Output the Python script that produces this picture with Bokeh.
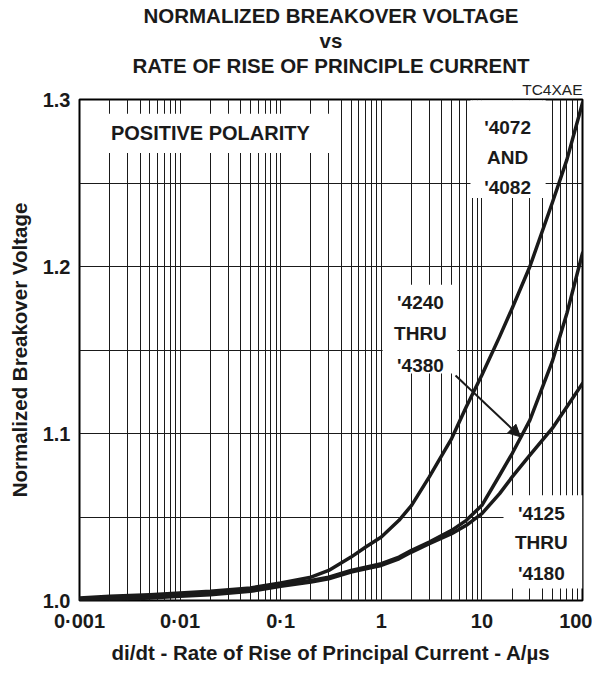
from bokeh.plotting import figure
from bokeh.models import FixedTicker, Title, Arrow, NormalHead, NumeralTickFormatter, ColumnDataSource
from bokeh.core.properties import value
from bokeh.embed import file_html
from bokeh.resources import INLINE

FONT = "Liberation Sans"

# ---- data ----
x_vals = [0.001, 0.002, 0.005, 0.01, 0.02, 0.05, 0.1, 0.2, 0.3, 0.5, 0.7, 1, 1.5, 2, 3, 5, 7, 10, 15, 20, 30, 50, 70, 100]
v_4072 = [1.0015, 1.0025, 1.0035, 1.0045, 1.0055, 1.0075, 1.0105, 1.014, 1.018, 1.026, 1.032, 1.038, 1.048, 1.057, 1.074, 1.097, 1.116, 1.135, 1.158, 1.175, 1.200, 1.238, 1.264, 1.298]
v_4240 = [1.0005, 1.0015, 1.0025, 1.0035, 1.0045, 1.0065, 1.0095, 1.012, 1.014, 1.018, 1.020, 1.022, 1.026, 1.030, 1.035, 1.042, 1.048, 1.057, 1.075, 1.088, 1.108, 1.143, 1.172, 1.208]
v_4125 = [1.0000, 1.0005, 1.0015, 1.0025, 1.0035, 1.0055, 1.0085, 1.011, 1.013, 1.017, 1.019, 1.021, 1.025, 1.029, 1.034, 1.040, 1.045, 1.052, 1.064, 1.074, 1.087, 1.103, 1.116, 1.130]

x_major_ticks = [0.001, 0.01, 0.1, 1, 10, 100]
x_major_labels = ["0·001", "0·01", "0·1", "1", "10", "100"]
y_major_ticks = [1.0, 1.1, 1.2, 1.3]
y_grid_ticks = [1.05, 1.1, 1.15, 1.2, 1.25]
x_grid_ticks = [m * d for d in [0.001, 0.01, 0.1, 1, 10] for m in range(1, 10)] + [100]

title_lines = ["NORMALIZED BREAKOVER VOLTAGE", "vs", "RATE OF RISE OF PRINCIPLE CURRENT"]
fig_code = "TC4XAE"
x_label = "di/dt - Rate of Rise of Principal Current - A/\u00b5s"
y_label = "Normalized Breakover Voltage"

# annotation boxes (layout): x0, x1, y0, y1 in data units
boxes = [
    (0.00115, 0.35, 1.268, 1.2915),
    (7.7, 43.0, 1.241, 1.2995),
    (1.03, 5.7, 1.136, 1.189),
    (16.4, 100, 1.0072, 1.063),
]
box_texts = [
    (0.02, 1.2802, "POSITIVE POLARITY", "20px"),
    (18.0, 1.2832, "'4072", "19px"),
    (18.0, 1.2653, "AND", "19px"),
    (18.0, 1.2473, "'4082", "19px"),
    (2.45, 1.1784, "'4240", "19px"),
    (2.45, 1.1599, "THRU", "19px"),
    (2.45, 1.1407, "'4380", "19px"),
    (39.0, 1.0521, "'4125", "19px"),
    (39.0, 1.0347, "THRU", "19px"),
    (39.0, 1.0162, "'4180", "19px"),
]

p = figure(width=592, height=667, x_axis_type="log", x_range=(0.001, 100), y_range=(1.0, 1.3),
           output_backend="svg", toolbar_location=None,
           min_border_left=79, min_border_right=10, min_border_top=99, min_border_bottom=67)
p.background_fill_color = "white"
p.border_fill_color = "white"
p.outline_line_color = "black"
p.outline_line_width = 2

# titles (last added is outermost)
p.add_layout(Title(text=fig_code, align="right", text_font=FONT, text_font_size="15.5px",
                   text_font_style="normal", text_color="#222222", standoff=4), "above")
for i, t in enumerate(reversed(title_lines)):
    p.add_layout(Title(text=t, align="center", text_font=FONT, text_font_size="20.5px",
                       text_font_style="bold", text_color="#1a1a1a", standoff=0,
                       offset=4), "above")

# axes
for ax in (p.xaxis[0], p.yaxis[0]):
    ax.axis_line_color = None
    ax.major_tick_line_color = None
    ax.minor_tick_line_color = None
    ax.major_tick_out = 0
    ax.major_tick_in = 0
    ax.minor_tick_out = 0
    ax.minor_tick_in = 0
    ax.major_label_text_font = FONT
    ax.major_label_text_font_style = "bold"
    ax.major_label_text_font_size = "20px"
    ax.major_label_text_color = "#1a1a1a"
    ax.axis_label_text_font = FONT
    ax.axis_label_text_font_style = "bold"
    ax.axis_label_text_font_size = "20.5px"
    ax.axis_label_text_color = "#1a1a1a"

p.xaxis.ticker = FixedTicker(ticks=x_major_ticks)
p.xaxis.major_label_overrides = dict(zip(x_major_ticks, x_major_labels))
p.xaxis.major_label_standoff = 9
p.xaxis.axis_label = x_label
p.xaxis.axis_label_standoff = 6

p.yaxis.ticker = FixedTicker(ticks=y_major_ticks)
p.yaxis.formatter = NumeralTickFormatter(format="0.0")
p.yaxis.major_label_standoff = 9
p.yaxis.axis_label = y_label
p.yaxis.axis_label_standoff = 9

# grid
p.xgrid.ticker = FixedTicker(ticks=x_grid_ticks)
p.ygrid.ticker = FixedTicker(ticks=y_grid_ticks)
for g in (p.xgrid[0], p.ygrid[0]):
    g.grid_line_color = "#1a1a1a"
    g.grid_line_width = 1
    g.grid_line_alpha = 1.0

# white label boxes
bsrc = ColumnDataSource(dict(left=[b[0] for b in boxes], right=[b[1] for b in boxes],
                             bottom=[b[2] for b in boxes], top=[b[3] for b in boxes]))
p.quad(left="left", right="right", bottom="bottom", top="top", source=bsrc,
       fill_color="white", line_color=None)

# curves
for ys in (v_4125, v_4240, v_4072):
    p.line(x_vals, ys, line_color="#1a1a1a", line_width=3.5, line_join="round", line_cap="round")

# labels
for (tx, ty, tt, fs) in box_texts:
    p.text(x=[tx], y=[ty], text=[tt], text_font=value(FONT), text_font_style="bold",
           text_font_size=fs, text_align="center", text_baseline="middle", text_color="#1a1a1a")

# arrow
p.add_layout(Arrow(end=NormalHead(size=12, fill_color="#1a1a1a", line_color="#1a1a1a"),
                   x_start=5.47, y_start=1.1347, x_end=24.2, y_end=1.098,
                   line_color="#1a1a1a", line_width=2))

open("out.html", "w").write(file_html(p, INLINE))
